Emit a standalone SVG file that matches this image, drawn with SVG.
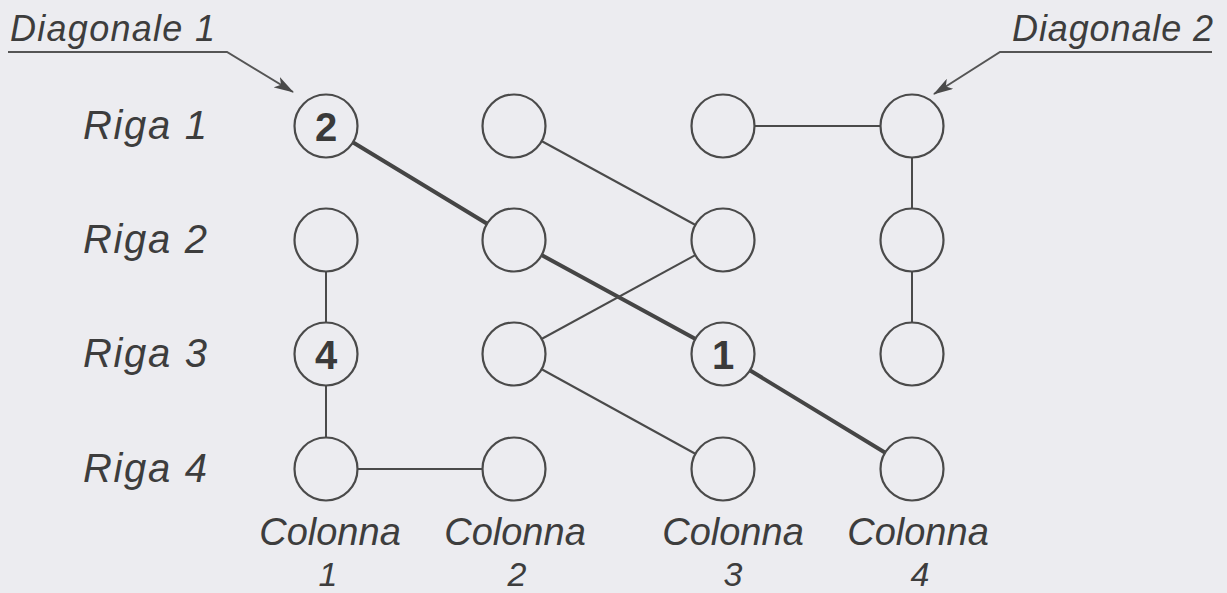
<svg xmlns="http://www.w3.org/2000/svg" width="1227" height="593" viewBox="0 0 1227 593">
<defs>
<marker id="ah" viewBox="0 0 20 12" refX="19" refY="6" markerWidth="20" markerHeight="12" markerUnits="userSpaceOnUse" orient="auto">
<path d="M0,0 L20,6 L0,12 L5,6 Z" fill="#4a4a4a"/>
</marker>
<style>
.lbl{font-family:"Liberation Sans",Arial,sans-serif;font-style:italic;fill:#3d3d3d}
.node circle{fill:#ececf0;stroke:#4a4a4a;stroke-width:2.2}
.num{font-family:"Liberation Sans",Arial,sans-serif;font-weight:bold;font-size:40px;fill:#3a3a3a;text-anchor:middle}
.thin{stroke:#4a4a4a;stroke-width:2;fill:none}
.thick{stroke:#454545;stroke-width:4;fill:none}
.ptr{stroke:#555;stroke-width:2;fill:none}
</style>
</defs>
<rect width="1227" height="593" fill="#ececf0"/>

<g id="labels">
<text class="lbl" x="10" y="41" font-size="36" textLength="205" lengthAdjust="spacing">Diagonale 1</text>
<text class="lbl" x="1012" y="41" font-size="36" textLength="201" lengthAdjust="spacing">Diagonale 2</text>
<text class="lbl" x="83" y="139" font-size="40" textLength="124" lengthAdjust="spacing">Riga 1</text>
<text class="lbl" x="83" y="253" font-size="40" textLength="124" lengthAdjust="spacing">Riga 2</text>
<text class="lbl" x="83" y="367" font-size="40" textLength="124" lengthAdjust="spacing">Riga 3</text>
<text class="lbl" x="83" y="482" font-size="40" textLength="124" lengthAdjust="spacing">Riga 4</text>
<text class="lbl" x="330" y="545" font-size="38" text-anchor="middle">Colonna</text>
<text class="lbl" x="515" y="545" font-size="38" text-anchor="middle">Colonna</text>
<text class="lbl" x="733" y="545" font-size="38" text-anchor="middle">Colonna</text>
<text class="lbl" x="918" y="545" font-size="38" text-anchor="middle">Colonna</text>
<text class="lbl" x="328" y="586" font-size="34" text-anchor="middle">1</text>
<text class="lbl" x="517" y="586" font-size="34" text-anchor="middle">2</text>
<text class="lbl" x="733" y="586" font-size="34" text-anchor="middle">3</text>
<text class="lbl" x="920" y="586" font-size="34" text-anchor="middle">4</text>
</g>

<g id="connectors">
<path class="ptr" d="M8,52 H227 L293,92" marker-end="url(#ah)"/>
<path class="ptr" d="M1212,52 H1000 L934,94" marker-end="url(#ah)"/>
<path class="thick" d="M326,126 L514,240 L723,354 L912,469"/>
<line class="thin" x1="514" y1="126" x2="723" y2="240"/>
<line class="thin" x1="723" y1="240" x2="514" y2="354"/>
<line class="thin" x1="514" y1="354" x2="723" y2="469"/>
<line class="thin" x1="723" y1="126" x2="912" y2="126"/>
<line class="thin" x1="912" y1="126" x2="912" y2="354"/>
<line class="thin" x1="326" y1="240" x2="326" y2="469"/>
<line class="thin" x1="326" y1="469" x2="514" y2="469"/>
</g>

<g id="n11" class="node"><circle cx="326" cy="126" r="31.5"/><text class="num" x="326" y="141">2</text></g>
<g id="n12" class="node"><circle cx="514" cy="126" r="31.5"/></g>
<g id="n13" class="node"><circle cx="723" cy="126" r="31.5"/></g>
<g id="n14" class="node"><circle cx="912" cy="126" r="31.5"/></g>
<g id="n21" class="node"><circle cx="326" cy="240" r="31.5"/></g>
<g id="n22" class="node"><circle cx="514" cy="240" r="31.5"/></g>
<g id="n23" class="node"><circle cx="723" cy="240" r="31.5"/></g>
<g id="n24" class="node"><circle cx="912" cy="240" r="31.5"/></g>
<g id="n31" class="node"><circle cx="326" cy="354" r="31.5"/><text class="num" x="326" y="369">4</text></g>
<g id="n32" class="node"><circle cx="514" cy="354" r="31.5"/></g>
<g id="n33" class="node"><circle cx="723" cy="354" r="31.5"/><text class="num" x="723" y="369">1</text></g>
<g id="n34" class="node"><circle cx="912" cy="354" r="31.5"/></g>
<g id="n41" class="node"><circle cx="326" cy="469" r="31.5"/></g>
<g id="n42" class="node"><circle cx="514" cy="469" r="31.5"/></g>
<g id="n43" class="node"><circle cx="723" cy="469" r="31.5"/></g>
<g id="n44" class="node"><circle cx="912" cy="469" r="31.5"/></g>
</svg>
